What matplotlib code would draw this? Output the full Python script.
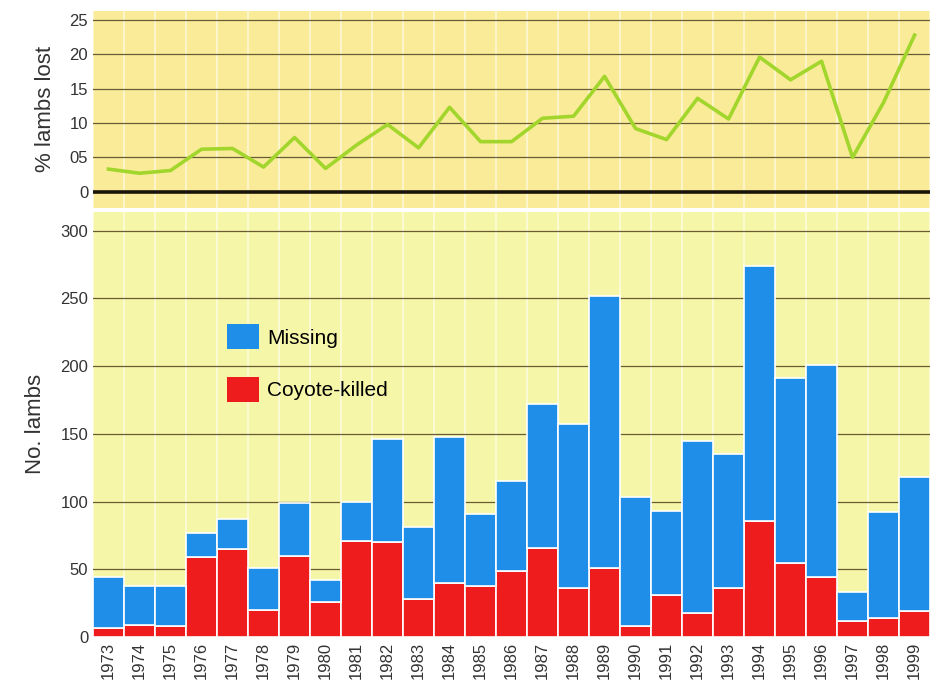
import numpy as np
import matplotlib
matplotlib.use('Agg')
import matplotlib.pyplot as plt
from matplotlib.patches import Patch

plt.rcParams['font.family'] = ['Liberation Sans', 'DejaVu Sans']

years = list(range(1973, 2000))
pct_lost = [3.3, 2.7, 3.1, 6.2, 6.3, 3.6, 7.9, 3.4, 6.8, 9.8, 6.4, 12.3, 7.3, 7.3,
            10.7, 11.0, 16.8, 9.2, 7.6, 13.6, 10.6, 19.6, 16.3, 19.0, 5.0, 13.0, 22.8]
total = [44, 38, 38, 77, 87, 51, 99, 42, 100, 146, 81, 148, 91, 115,
         172, 157, 252, 103, 93, 145, 135, 274, 191, 201, 33, 92, 118]
coyote = [7, 9, 8, 59, 65, 20, 60, 26, 71, 70, 28, 40, 38, 49,
          66, 36, 51, 8, 31, 18, 36, 86, 55, 44, 12, 14, 19]
missing = [t - c for t, c in zip(total, coyote)]

top_bg = '#faeb98'
bot_bg = '#f6f6a8'
grid_c = '#6a5c34'
blue = '#1e8ee8'
red = '#ee1c1c'
green = '#a2d62c'

fig = plt.figure(figsize=(9.37, 6.92), dpi=100)
ax1 = fig.add_axes([0.0993, 0.700, 0.8933, 0.284])
ax2 = fig.add_axes([0.0993, 0.0795, 0.8933, 0.6145])

x = np.arange(len(years))

# top panel: % lambs lost
ax1.set_facecolor(top_bg)
for i in range(len(years) + 1):
    ax1.axvline(i - 0.5, color='white', lw=1.2, alpha=0.6, zorder=1)
for v in [5, 10, 15, 20, 25]:
    ax1.axhline(v, color=grid_c, lw=0.9, zorder=2)
ax1.axhline(0, color='#1a1408', lw=2.6, zorder=2)
ax1.plot(x, pct_lost, color=green, lw=2.6, zorder=3)
ax1.set_xlim(-0.5, len(years) - 0.5)
ax1.set_ylim(-2.3, 26.3)
ax1.set_yticks([0, 5, 10, 15, 20, 25])
ax1.set_yticklabels(['0', '05', '10', '15', '20', '25'])
ax1.set_xticks([])
ax1.set_ylabel('% lambs lost', fontsize=16, color='#333333', labelpad=10)

# bottom panel: number of lambs
ax2.set_facecolor(bot_bg)
for i in range(len(years) + 1):
    ax2.axvline(i - 0.5, color='white', lw=1.2, alpha=0.6, zorder=1)
for v in [50, 100, 150, 200, 250, 300]:
    ax2.axhline(v, color=grid_c, lw=0.9, zorder=2)
ax2.bar(x, coyote, width=1.0, color=red, edgecolor='white', linewidth=1.2, zorder=3)
ax2.bar(x, missing, bottom=coyote, width=1.0, color=blue, edgecolor='white', linewidth=1.2, zorder=3)
ax2.set_xlim(-0.5, len(years) - 0.5)
ax2.set_ylim(0, 314)
ax2.set_yticks([0, 50, 100, 150, 200, 250, 300])
ax2.set_xticks(x)
ax2.set_xticklabels([str(y) for y in years], rotation=90)
ax2.set_ylabel('No. lambs', fontsize=16, color='#333333', labelpad=10)

for ax in (ax1, ax2):
    for s in ax.spines.values():
        s.set_visible(False)
    ax.tick_params(length=0, labelsize=12, labelcolor='#333333')

handles = [Patch(facecolor=blue, edgecolor='none', label='Missing'),
           Patch(facecolor=red, edgecolor='none', label='Coyote-killed')]
ax2.legend(handles=handles, loc='upper left', bbox_to_anchor=(0.138, 0.78),
           frameon=False, fontsize=15, handlelength=1.5, handleheight=1.5,
           labelspacing=1.3, handletextpad=0.4)

fig.savefig('out.png', dpi=100, facecolor='white')
